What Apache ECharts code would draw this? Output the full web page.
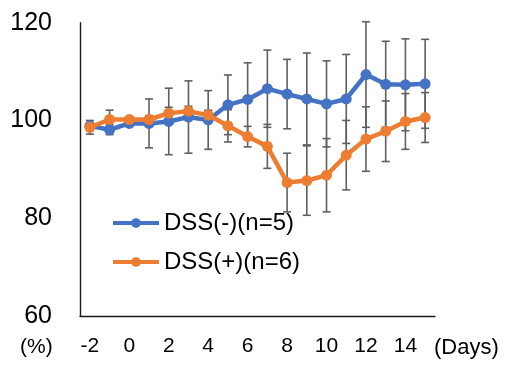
<!DOCTYPE html>
<html>
<head>
<meta charset="utf-8">
<script src="https://cdn.jsdelivr.net/npm/echarts@6/dist/echarts.min.js"></script>
<style>
  html, body { margin: 0; padding: 0; background: #fff; }
  #chart { width: 510px; height: 378px; }
</style>
</head>
<body>
<div id="chart"></div>
<script>
// Body weight (%) over time, mean ± SD per group
const days = [-2, -1, 0, 1, 2, 3, 4, 5, 6, 7, 8, 9, 10, 11, 12, 13, 14, 15];

const seriesNames = ['DSS(-)(n=5)', 'DSS(+)(n=6)'];

const dssNegMean = [98.9, 98.1, 99.4, 99.4, 99.8, 100.7, 100.1, 103.2, 104.3, 106.5,
                    105.4, 104.4, 103.4, 104.4, 109.4, 107.4, 107.3, 107.5];
const dssNegSD   = [0.4, 1.0, 0.4, 5.0, 6.8, 7.4, 6.0, 6.1, 7.5, 7.9,
                    7.1, 9.4, 8.8, 9.1, 10.8, 8.8, 9.4, 9.1];

const dssPosMean = [98.6, 100.2, 100.2, 100.2, 101.5, 101.9, 101.1, 98.9, 96.7, 94.7,
                    87.3, 87.7, 88.8, 92.9, 96.2, 97.8, 99.8, 100.6];
const dssPosSD   = [1.4, 1.9, 0.4, 0.8, 1.2, 1.0, 1.0, 3.3, 2.1, 4.5,
                    6.0, 7.1, 7.5, 7.1, 6.6, 6.2, 5.7, 5.1];

const yTicks = { min: 60, max: 120, step: 20 };

const BLUE = '#4472C4';
const ORANGE = '#ED7D31';
const BAR_GREY = '#5f5f5f';
const FONT = 'Liberation Sans';

function errorBarItem(params, api) {
  const idx = api.value(0);
  const mean = api.value(1);
  const sd = api.value(2);
  const hi = api.coord([idx, mean + sd]);
  const lo = api.coord([idx, mean - sd]);
  const cap = 4;
  const style = { stroke: BAR_GREY, lineWidth: 1.6 };
  return {
    type: 'group',
    children: [
      { type: 'line', shape: { x1: hi[0], y1: hi[1], x2: lo[0], y2: lo[1] }, style: style },
      { type: 'line', shape: { x1: hi[0] - cap, y1: hi[1], x2: hi[0] + cap, y2: hi[1] }, style: style },
      { type: 'line', shape: { x1: lo[0] - cap, y1: lo[1], x2: lo[0] + cap, y2: lo[1] }, style: style }
    ]
  };
}

function errorData(mean, sd) {
  return days.map((d, i) => [i, mean[i], sd[i]]);
}

const chart = echarts.init(document.getElementById('chart'), null, { renderer: 'canvas' });

chart.setOption({
  animation: false,
  backgroundColor: '#fff',
  textStyle: { fontFamily: FONT },
  grid: { left: 80, right: 75, top: 22.7, bottom: 62, containLabel: false },
  legend: {
    data: seriesNames,
    orient: 'vertical',
    left: 106,
    top: 206,
    itemWidth: 46,
    itemHeight: 12,
    itemGap: 15,
    lineStyle: { width: 4 },
    textStyle: { fontFamily: FONT, fontSize: 24, lineHeight: 24, color: '#000' }
  },
  xAxis: {
    type: 'category',
    data: days.map(String),
    boundaryGap: true,
    axisLine: { lineStyle: { color: '#1a1a1a', width: 1.4 } },
    axisTick: { show: false },
    axisLabel: { interval: 1, fontFamily: FONT, fontSize: 21, color: '#000', margin: 20 },
    splitLine: { show: false }
  },
  yAxis: {
    type: 'value',
    min: yTicks.min,
    max: yTicks.max,
    interval: yTicks.step,
    axisLine: { show: true, lineStyle: { color: '#1a1a1a', width: 1.4 } },
    axisTick: { show: false },
    axisLabel: { fontFamily: FONT, fontSize: 25, color: '#000', margin: 28 },
    splitLine: { show: false }
  },
  graphic: [
    { type: 'text', left: 20, top: 337, style: { text: '(%)', font: '21px "Liberation Sans"', fill: '#000' } },
    { type: 'text', left: 434, top: 337, style: { text: '(Days)', font: '22px "Liberation Sans"', fill: '#000' } }
  ],
  series: [
    {
      type: 'custom',
      name: 'sd-neg',
      renderItem: errorBarItem,
      data: errorData(dssNegMean, dssNegSD),
      encode: { x: 0, y: 1 },
      z: 1,
      silent: true
    },
    {
      type: 'custom',
      name: 'sd-pos',
      renderItem: errorBarItem,
      data: errorData(dssPosMean, dssPosSD),
      encode: { x: 0, y: 1 },
      z: 1,
      silent: true
    },
    {
      type: 'line',
      name: seriesNames[0],
      data: dssNegMean,
      symbol: 'circle',
      symbolSize: 11,
      itemStyle: { color: BLUE },
      lineStyle: { color: BLUE, width: 4.5 },
      z: 3
    },
    {
      type: 'line',
      name: seriesNames[1],
      data: dssPosMean,
      symbol: 'circle',
      symbolSize: 11,
      itemStyle: { color: ORANGE },
      lineStyle: { color: ORANGE, width: 4.5 },
      z: 4
    }
  ]
});
</script>
</body>
</html>
